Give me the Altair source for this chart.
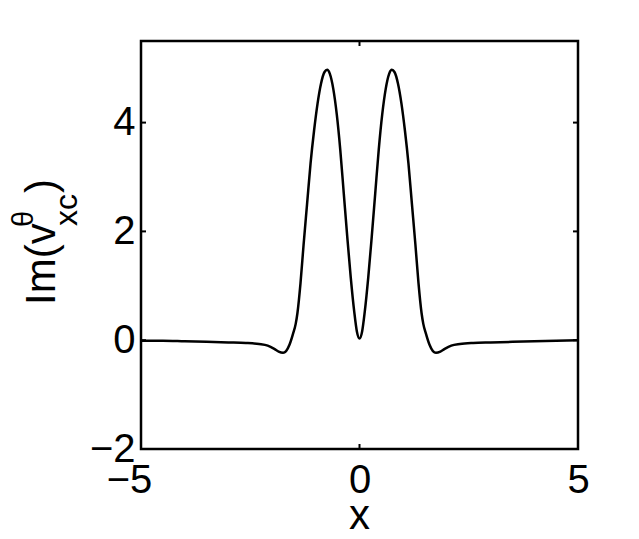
import altair as alt
import pandas as pd

x_vals = [-5.0, -4.5, -4.0, -3.5, -3.0, -2.6, -2.3, -2.1, -1.95, -1.85, -1.75, -1.68, -1.60,
          -1.52, -1.46, -1.42, -1.35, -1.28, -1.20, -1.12, -1.04, -0.96, -0.88, -0.80, -0.74,
          -0.68, -0.60, -0.52, -0.44, -0.36, -0.28, -0.20, -0.12, -0.06, 0.0,
          0.06, 0.12, 0.20, 0.28, 0.36, 0.44, 0.52, 0.60, 0.68, 0.74, 0.80, 0.88, 0.96,
          1.04, 1.12, 1.20, 1.28, 1.35, 1.42, 1.46, 1.52, 1.60, 1.68, 1.75, 1.85, 1.95,
          2.1, 2.3, 2.6, 3.0, 3.5, 4.0, 4.5, 5.0]
y_vals = [-0.01, -0.01, -0.02, -0.03, -0.04, -0.05, -0.07, -0.10, -0.16, -0.21, -0.23, -0.20, -0.08,
          0.12, 0.30, 0.50, 1.05, 1.75, 2.50, 3.25, 3.85, 4.35, 4.72, 4.93, 4.97,
          4.90, 4.62, 4.15, 3.50, 2.70, 1.90, 1.15, 0.52, 0.16, 0.03,
          0.16, 0.52, 1.15, 1.90, 2.70, 3.50, 4.15, 4.62, 4.90, 4.97, 4.93, 4.72, 4.35,
          3.85, 3.25, 2.50, 1.75, 1.05, 0.50, 0.30, 0.12, -0.08, -0.20, -0.23, -0.21, -0.16,
          -0.10, -0.07, -0.05, -0.04, -0.03, -0.02, -0.01, 0.0]

x_ticks = [-5, 0, 5]
y_ticks = [-2, 0, 2, 4]
x_domain = [-5, 5]
y_domain = [-2, 5.5]

W, H = 437, 408
FONT = "Liberation Sans"

xs = alt.Scale(domain=x_domain, nice=False, zero=False)
ys = alt.Scale(domain=y_domain, nice=False, zero=False)

x_axis = alt.Axis(
    values=x_ticks, title=None, ticks=False, domain=False, grid=False,
    labelFontSize=40, labelFont=FONT, labelColor="black", labelFlush=False,
    labelBaseline="alphabetic", labelPadding=43, labelOverlap=False,
    labelOffset={"condition": {"test": "datum.value < 0", "value": -12}, "value": 0},
)
y_axis = alt.Axis(
    values=y_ticks, title=None, ticks=False, domain=False, grid=False,
    labelFontSize=40, labelFont=FONT, labelColor="black", labelFlush=False,
    labelBaseline="middle", labelPadding=6, labelOverlap=False,
)

df = pd.DataFrame({"x": x_vals, "y": y_vals})

line = alt.Chart(df).mark_line(color="black", strokeWidth=2.5, interpolate="monotone").encode(
    x=alt.X("x:Q", scale=xs, axis=x_axis),
    y=alt.Y("y:Q", scale=ys, axis=y_axis),
)

xt = pd.DataFrame({"x": x_ticks})
yt = pd.DataFrame({"y": y_ticks})

ticks_bottom = alt.Chart(xt).mark_rule(color="black", strokeWidth=2).encode(
    x=alt.X("x:Q", scale=xs, axis=x_axis), y=alt.value(H), y2=alt.value(H - 5))
ticks_top = alt.Chart(xt).mark_rule(color="black", strokeWidth=2).encode(
    x=alt.X("x:Q", scale=xs, axis=x_axis), y=alt.value(0), y2=alt.value(5))
ticks_left = alt.Chart(yt).mark_rule(color="black", strokeWidth=2).encode(
    y=alt.Y("y:Q", scale=ys, axis=y_axis), x=alt.value(0), x2=alt.value(5))
ticks_right = alt.Chart(yt).mark_rule(color="black", strokeWidth=2).encode(
    y=alt.Y("y:Q", scale=ys, axis=y_axis), x=alt.value(W - 5), x2=alt.value(W))


def txt(s, px, py, size, angle=0, align="left"):
    return alt.Chart(pd.DataFrame({"t": [s]})).mark_text(
        font=FONT, fontSize=size, color="black", angle=angle, align=align,
        baseline="alphabetic").encode(text="t:N", x=alt.value(px), y=alt.value(py))


x_title = txt("x", W / 2, 488, 42, align="center")
y_t1 = txt("Im(v", -86, 264, 42, angle=270)
y_t2 = txt("θ", -108, 186, 29, angle=270)
y_t3 = txt("xc", -64, 185, 32, angle=270)
y_t4 = txt(")", -86, 152, 42, angle=270)

chart = alt.layer(
    line, ticks_bottom, ticks_top, ticks_left, ticks_right,
    x_title, y_t1, y_t2, y_t3, y_t4,
).properties(
    width=W, height=H,
    autosize=alt.AutoSizeParams(type="none"),
    padding={"left": 133, "top": 33, "right": 50, "bottom": 90},
).configure(
    background="white",
    view=alt.ViewConfig(stroke="black", strokeWidth=2.5),
)

chart.save("out.html", embed_options={"renderer": "svg", "actions": False})
